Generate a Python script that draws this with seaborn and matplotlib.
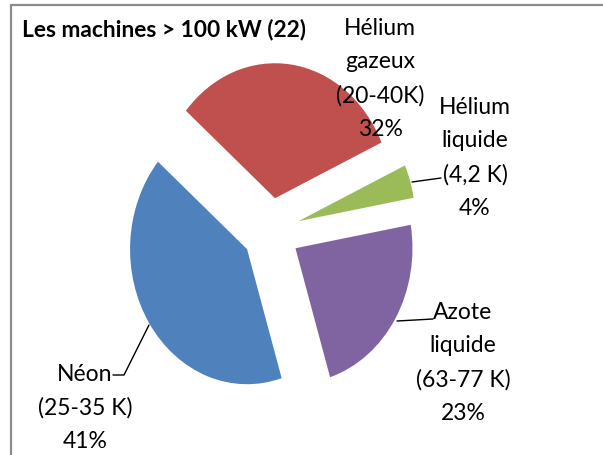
import matplotlib
matplotlib.use("Agg")
import matplotlib.pyplot as plt
import seaborn as sns
from matplotlib.lines import Line2D

sns.set_theme(style="white")
plt.rcParams['font.family'] = ['Lato', 'DejaVu Sans']

# Data (clockwise order starting from the red slice)
categories = ["Hélium gazeux", "Hélium liquide", "Azote liquide", "Néon"]
ranges = ["(20-40K)", "(4,2 K)", "(63-77 K)", "(25-35 K)"]
shares = [32, 4, 23, 41]
colors = ["#C0504D", "#9BBB59", "#8064A2", "#4F81BD"]
title = "Les machines > 100 kW (22)"

W, H = 603, 456
fig = plt.figure(figsize=(W / 100, H / 100), dpi=100)
ax = fig.add_axes([0, 0, 1, 1])

ax.pie(shares, colors=colors, startangle=139.6, counterclock=False,
       explode=[0.245] * len(shares), radius=1.0,
       wedgeprops=dict(linewidth=0))

# pixel mapping: centre at (271,232), 117 px/unit horizontally, 135 px/unit vertically
px, py = 117.0, 135.0
cx, cy = 271.0, 232.0
xmin = -cx / px
ymax = cy / py
ax.set_xlim(xmin, xmin + W / px)
ax.set_ylim(ymax - H / py, ymax)
ax.set_aspect('auto')
ax.axis('off')

def to_data(x, y):
    return (x - cx) / px, (cy - y) / py

fs = 16.5
ls = 1.72
def label(text, x, y):
    dx, dy = to_data(x, y)
    ax.text(dx, dy, text, ha='center', va='center', fontsize=fs,
            linespacing=ls, color='black')

# Labels (centre positions in pixels)
lab = {}
for c, r, s in zip(categories, ranges, shares):
    name = c.replace(" ", "\n")
    lab[c] = f"{name}\n{r}\n{s}%"

label(lab["Hélium gazeux"], 380, 79)
label(lab["Hélium liquide"], 475, 158)
label(lab["Azote liquide"], 463, 363)
label(lab["Néon"], 85, 408)

# leader lines (pixel coords)
def leader(pts):
    xs, ys = zip(*[to_data(x, y) for x, y in pts])
    ax.add_line(Line2D(xs, ys, color='black', linewidth=1.0))

leader([(412, 183), (441, 179)])
leader([(397, 322), (433, 320)])
leader([(149, 326), (124, 376), (113, 376)])

# title
fig.text(22 / W, 1 - 29 / H, title, ha='left', va='center',
         fontsize=16.4, fontweight='bold', color='black')

# frame (left and top edges visible)
fig.add_artist(Line2D([11 / W, 11 / W], [0, 1 - 6 / H], transform=fig.transFigure,
                      color='#8C8C8C', linewidth=1.6))
fig.add_artist(Line2D([11 / W, 1], [1 - 6 / H, 1 - 6 / H], transform=fig.transFigure,
                      color='#8C8C8C', linewidth=1.6))

fig.savefig("out.png", dpi=100, facecolor='white')
